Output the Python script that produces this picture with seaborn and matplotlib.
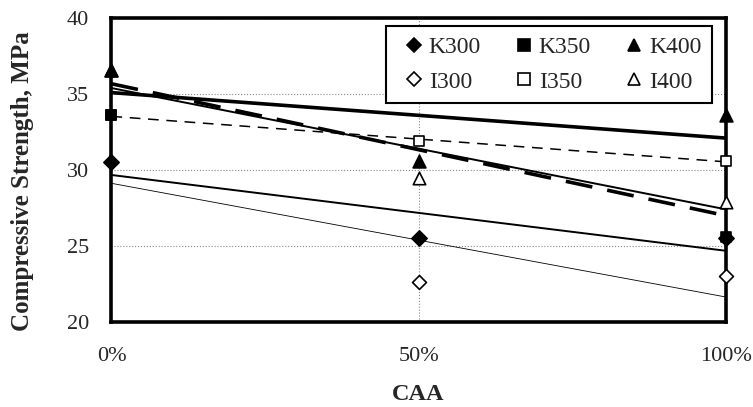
import matplotlib
matplotlib.use("Agg")
import matplotlib.pyplot as plt
import seaborn as sns
from matplotlib.lines import Line2D

# CAA replacement level (%) and compressive strength (MPa)
caa = [0, 50, 100]
k300 = [30.5, 25.5, 25.5]
k350 = [33.6, 35.0, 25.6]
k400 = [36.6, 30.6, 33.6]
i300 = [30.5, 22.6, 23.0]
i350 = [33.6, 31.9, 30.6]
i400 = [36.6, 29.5, 27.9]
series_names = ["K300", "K350", "K400", "I300", "I350", "I400"]
x_ticklabels = ["0%", "50%", "100%"]

sns.set_style("white")
plt.rcParams['font.family'] = ['Liberation Serif', 'DejaVu Serif']

fig = plt.figure(figsize=(7.53, 4.07), dpi=100)
ax = fig.add_axes([0.148, 0.21, 0.816, 0.745])

series = [k300, k350, k400, i300, i350, i400]
markers = ["D", "s", "^", "D", "s", "^"]
sizes = [60, 60, 85, 50, 55, 80]
filled = [True, True, True, False, False, False]

# trend lines (linear fits), styled like the original
trend_style = {
    "K300": dict(lw=1.4, ls="-"),
    "K350": dict(lw=1.4, ls="-"),
    "K400": dict(lw=2.6, ls="-"),
    "I300": dict(lw=0.6, ls="-"),
    "I350": dict(lw=1.1, ls=(0, (7, 5))),
    "I400": dict(lw=2.6, ls=(0, (7.5, 4.2))),
}
for name, vals in zip(series_names, series):
    sns.regplot(x=caa, y=vals, ax=ax, ci=None, scatter=False,
                line_kws=dict(color="black", zorder=2, **trend_style[name]))

# markers: hollow ones first so filled ones sit on top
order = [3, 4, 5, 0, 1, 2]
for i in order:
    sns.scatterplot(x=caa, y=series[i], ax=ax, marker=markers[i], s=sizes[i],
                    color="black" if filled[i] else "white",
                    edgecolor="black", linewidth=1.2, zorder=3, clip_on=False)

ax.set_xlim(0, 100)
ax.set_ylim(20, 40)
ax.set_xticks(caa)
ax.set_xticklabels(x_ticklabels)
ax.set_yticks([20, 25, 30, 35, 40])
ax.tick_params(axis="both", labelsize=16, direction="out", length=8,
               width=1.2, color="black")
ax.tick_params(axis="y", pad=8)
ax.tick_params(axis="x", pad=10)
ax.grid(True, color="#888888", linestyle=":", linewidth=0.8)
for sp in ax.spines.values():
    sp.set_linewidth(2.6)
    sp.set_color("black")

ax.set_xlabel("")
ax.set_ylabel("")
fig.text(418 / 753, 1 - 394 / 407, "CAA", fontsize=17.5, fontweight="bold",
         ha="center", va="center")
fig.text(23 / 753, 1 - 181 / 407, "Compressive Strength, MPa", fontsize=18,
         fontweight="bold", rotation=90, ha="center", va="center")

handles = []
for i, name in enumerate(series_names):
    handles.append(Line2D([], [], ls="none", marker=markers[i],
                          markersize=8 if markers[i] != "D" else 7,
                          markerfacecolor="black" if filled[i] else "white",
                          markeredgecolor="black", markeredgewidth=1.2,
                          label=name))
leg_order = [0, 3, 1, 4, 2, 5]
leg = ax.legend([handles[i] for i in leg_order],
                [series_names[i] for i in leg_order],
                ncol=3, loc="upper right", bbox_to_anchor=(0.985, 0.99),
                fontsize=17, frameon=True, fancybox=False, handlelength=1.45,
                handletextpad=-0.1, columnspacing=1.1, borderpad=0.45,
                labelspacing=0.55, borderaxespad=0.2, framealpha=1.0)
leg.get_frame().set_edgecolor("black")
leg.get_frame().set_linewidth(1.5)
leg.set_zorder(5)

fig.savefig("out.png", dpi=100)
